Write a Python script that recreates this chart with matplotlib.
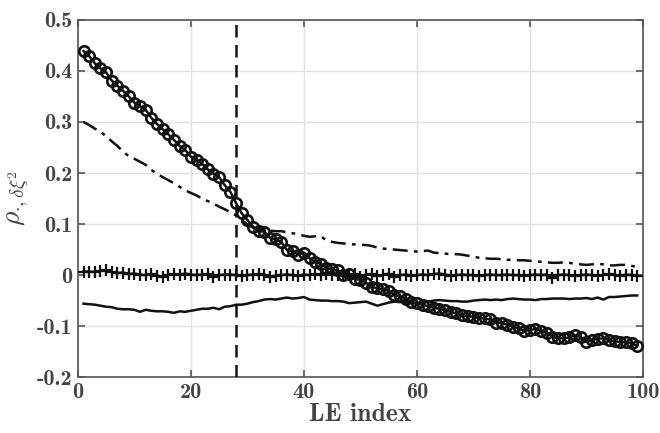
import numpy as np
import matplotlib
matplotlib.use('Agg')
import matplotlib.pyplot as plt

# LE index 1..99
le_index = np.arange(1, 100)

rho_circle = [
    0.439, 0.429, 0.415, 0.405, 0.397, 0.381, 0.371, 0.361, 0.350, 0.338,
    0.331, 0.324, 0.308, 0.296, 0.286, 0.276, 0.265, 0.253, 0.245, 0.232,
    0.226, 0.218, 0.207, 0.199, 0.192, 0.176, 0.163, 0.141, 0.121, 0.108,
    0.095, 0.086, 0.085, 0.073, 0.070, 0.065, 0.049, 0.047, 0.040, 0.044,
    0.033, 0.026, 0.022, 0.014, 0.011, 0.009, 0.000, 0.003, -0.008, -0.009,
    -0.015, -0.023, -0.026, -0.028, -0.031, -0.039, -0.041, -0.046, -0.052, -0.055,
    -0.058, -0.061, -0.064, -0.066, -0.069, -0.072, -0.075, -0.079, -0.080, -0.082,
    -0.084, -0.085, -0.087, -0.093, -0.094, -0.097, -0.101, -0.104, -0.109, -0.108,
    -0.105, -0.110, -0.113, -0.121, -0.123, -0.124, -0.122, -0.118, -0.121, -0.131,
    -0.127, -0.125, -0.124, -0.127, -0.130, -0.131, -0.132, -0.133, -0.139]

rho_dashdot = [
    0.300, 0.294, 0.287, 0.281, 0.272, 0.262, 0.253, 0.242, 0.233, 0.228,
    0.222, 0.216, 0.206, 0.199, 0.192, 0.186, 0.180, 0.173, 0.166, 0.161,
    0.156, 0.150, 0.145, 0.140, 0.134, 0.129, 0.123, 0.117, 0.108, 0.099,
    0.093, 0.089, 0.088, 0.087, 0.086, 0.086, 0.084, 0.082, 0.080, 0.077,
    0.075, 0.076, 0.076, 0.068, 0.065, 0.063, 0.062, 0.061, 0.060, 0.059,
    0.059, 0.057, 0.054, 0.052, 0.051, 0.050, 0.049, 0.048, 0.047, 0.046,
    0.047, 0.048, 0.044, 0.043, 0.042, 0.041, 0.041, 0.040, 0.038, 0.036,
    0.034, 0.033, 0.032, 0.032, 0.031, 0.030, 0.030, 0.029, 0.029, 0.028,
    0.027, 0.026, 0.025, 0.024, 0.024, 0.025, 0.024, 0.022, 0.021, 0.020,
    0.021, 0.022, 0.021, 0.019, 0.019, 0.020, 0.020, 0.018, 0.016]

rho_plus = [
    0.007, 0.007, 0.006, 0.008, 0.010, 0.006, 0.004, 0.005, 0.002, 0.003,
    0.001, 0.000, 0.002, -0.001, -0.003, 0.000, 0.002, 0.001, 0.003, 0.001,
    0.000, 0.001, 0.002, -0.003, 0.000, 0.001, 0.001, 0.000, -0.002, 0.000,
    0.001, 0.002, 0.001, -0.003, -0.001, 0.000, 0.001, 0.000, -0.001, 0.001,
    0.000, 0.002, 0.000, 0.003, 0.001, 0.000, -0.002, 0.001, 0.002, -0.003,
    0.001, 0.002, -0.001, 0.000, 0.003, -0.004, 0.000, 0.001, -0.001, 0.000,
    0.001, 0.000, 0.002, 0.003, 0.001, -0.001, 0.000, 0.001, 0.000, 0.000,
    -0.001, 0.000, 0.001, 0.000, 0.000, 0.001, 0.000, 0.000, -0.001, 0.000,
    0.001, 0.000, 0.001, -0.005, 0.000, 0.001, 0.000, -0.001, 0.000, 0.001,
    0.000, -0.001, 0.000, 0.002, 0.000, -0.001, 0.001, 0.000, -0.001]

rho_solid = [
    -0.056, -0.057, -0.058, -0.060, -0.062, -0.063, -0.066, -0.067, -0.067, -0.068,
    -0.072, -0.068, -0.070, -0.071, -0.071, -0.072, -0.074, -0.071, -0.072, -0.070,
    -0.068, -0.066, -0.066, -0.064, -0.067, -0.062, -0.061, -0.058, -0.058, -0.056,
    -0.053, -0.051, -0.048, -0.047, -0.048, -0.046, -0.044, -0.046, -0.045, -0.043,
    -0.048, -0.049, -0.050, -0.050, -0.051, -0.051, -0.052, -0.055, -0.054, -0.053,
    -0.052, -0.056, -0.060, -0.057, -0.054, -0.052, -0.053, -0.052, -0.054, -0.056,
    -0.054, -0.052, -0.050, -0.049, -0.050, -0.051, -0.051, -0.052, -0.052, -0.050,
    -0.049, -0.048, -0.049, -0.048, -0.049, -0.047, -0.046, -0.047, -0.048, -0.048,
    -0.049, -0.047, -0.047, -0.046, -0.046, -0.046, -0.047, -0.046, -0.046, -0.045,
    -0.047, -0.044, -0.048, -0.043, -0.043, -0.042, -0.041, -0.040, -0.040]

cutoff_index = 28

xticks = [0, 20, 40, 60, 80, 100]
yticks = [-0.2, -0.1, 0, 0.1, 0.2, 0.3, 0.4, 0.5]
ytick_labels = ['-0.2', '-0.1', '0', '0.1', '0.2', '0.3', '0.4', '0.5']

plt.rcParams['font.family'] = ['cmb10', 'DejaVu Serif']
plt.rcParams['mathtext.fontset'] = 'cm'
plt.rcParams['axes.unicode_minus'] = False

txt_col = '#444444'
ax_col = '#555555'

fig = plt.figure(figsize=(6.6, 4.33), dpi=100)
ax = fig.add_axes([0.118, 0.129, 0.856, 0.825])

ax.plot(le_index, rho_circle, '-', color='#111111', lw=1.8, marker='o', ms=7.5,
        mew=1.9, mfc='none', zorder=4)
ax.plot(le_index, rho_dashdot, '-', color='#111111', lw=1.8,
        dashes=(6, 2.5, 1.5, 2.5), zorder=3)
ax.plot(le_index, rho_plus, '-', color='#111111', lw=1.8, marker='+', ms=8.5,
        mew=1.6, zorder=3)
ax.plot(le_index, rho_solid, '-', color='#111111', lw=1.8, zorder=3)
ax.axvline(cutoff_index, color='#111111', ls=(0, (5, 3)), lw=1.8, zorder=5)

ax.set_xlim(0, 100)
ax.set_ylim(-0.2, 0.5)
ax.set_xticks(xticks)
ax.set_xticklabels([str(t) for t in xticks])
ax.set_yticks(yticks)
ax.set_yticklabels(ytick_labels)

ax.grid(True, color='#e3e3e3', lw=1.0, zorder=0)
ax.set_axisbelow(True)
for sp in ax.spines.values():
    sp.set_color(ax_col)
    sp.set_linewidth(1.2)
ax.tick_params(direction='in', length=5, width=1.2, colors=ax_col,
               top=True, right=True, labelsize=16, labelcolor=txt_col, pad=4)

ax.set_xlabel('LE index', fontsize=18.5, color=txt_col, labelpad=1)
ax.set_ylabel(r'$\rho_{\cdot,\delta\xi^2}$', fontsize=20, color=txt_col, labelpad=4)

fig.savefig('out.png', dpi=100)
